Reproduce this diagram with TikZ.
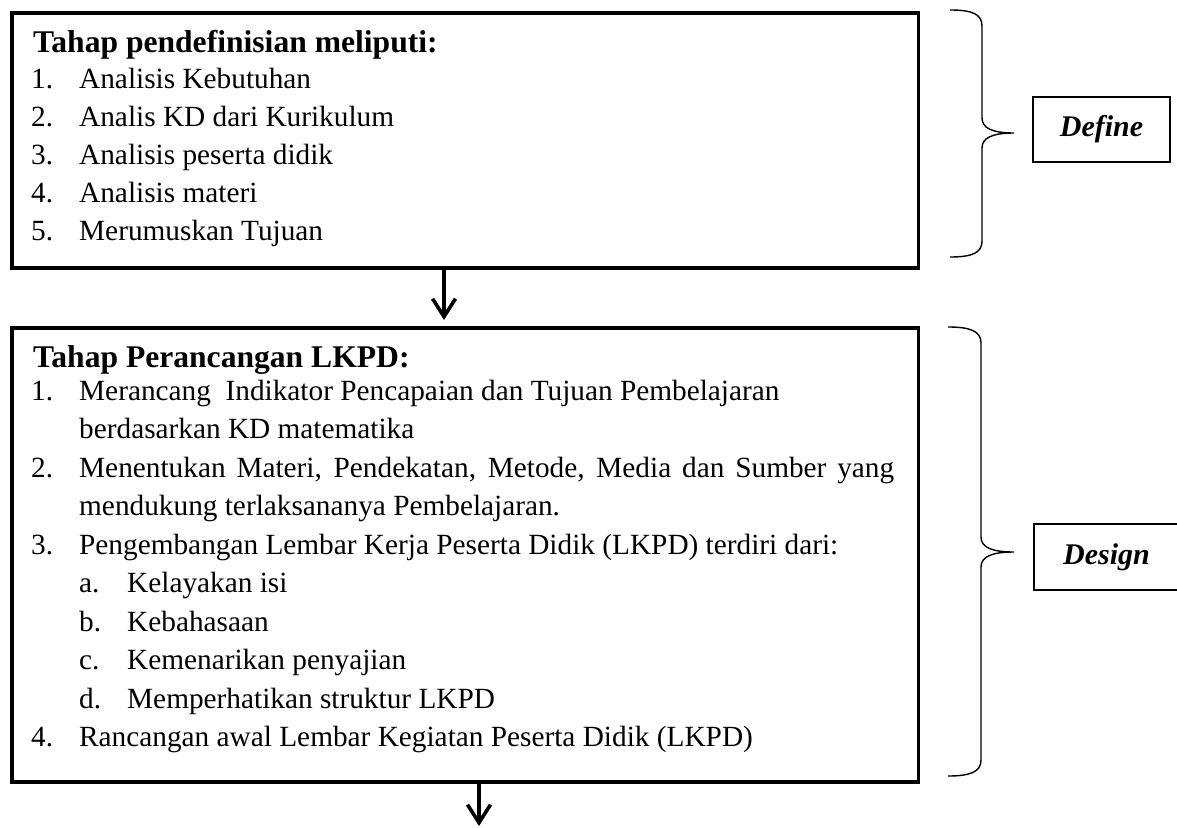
\documentclass[tikz,border=0pt]{standalone}
\usepackage{fontspec}
\setmainfont{Liberation Serif}
\usetikzlibrary{arrows.meta}
\tikzset{
  stagebox/.style={draw, line width=3.6pt, minimum width=906.5pt, anchor=north west, inner sep=0pt},
  phasebox/.style={draw, line width=2.2pt, minimum height=65pt, inner sep=0pt,
    font=\fontsize{30}{32}\selectfont\bfseries\itshape},
  flowarrow/.style={line width=3.6pt, -{Straight Barb[length=18pt,width=23pt,line width=3.6pt]}},
  bracepath/.style={line width=1.4pt},
  titletext/.style={anchor=base west, inner sep=0pt, font=\fontsize{31.6}{34}\selectfont\bfseries},
  listtext/.style={anchor=base west, inner sep=0pt},
}
\newcommand{\itemno}[1]{\makebox[48pt][l]{#1}}
\begin{document}
\begin{tikzpicture}[x=1pt, y=-1pt]
\useasboundingbox (0,0) rectangle (1177,827);

% boxes
\node[stagebox, minimum height=255pt] (b1) at (10,11) {};
\node[stagebox, minimum height=454pt] (b2) at (10,326) {};

% texts box 1
\node[titletext] (t1) at (33,52) {Tahap pendefinisian meliputi:};
\node[listtext] (l1) at (31,88) {\begin{minipage}[t]{870pt}\fontsize{29.3}{38}\selectfont
\itemno{1.}Analisis Kebutuhan\\
\itemno{2.}Analis KD dari Kurikulum\\
\itemno{3.}Analisis peserta didik\\
\itemno{4.}Analisis materi\\
\itemno{5.}Merumuskan Tujuan
\end{minipage}};

% texts box 2
\node[titletext] (t2) at (33,367) {Tahap Perancangan LKPD:};
\node[listtext] (l2) at (31,400) {\begin{minipage}[t]{880pt}\fontsize{29.3}{38.5}\selectfont
\itemno{1.}Merancang\ \ Indikator Pencapaian dan Tujuan Pembelajaran\\
\hspace*{48pt}berdasarkan KD matematika\\
\itemno{2.}\makebox[815pt][s]{Menentukan Materi, Pendekatan, Metode, Media dan Sumber yang}\\
\hspace*{48pt}mendukung terlaksananya Pembelajaran.\\
\itemno{3.}Pengembangan Lembar Kerja Peserta Didik (LKPD) terdiri dari:\\
\hspace*{48pt}\itemno{a.}Kelayakan isi\\
\hspace*{48pt}\itemno{b.}Kebahasaan\\
\hspace*{48pt}\itemno{c.}Kemenarikan penyajian\\
\hspace*{48pt}\itemno{d.}Memperhatikan struktur LKPD\\
\itemno{4.}Rancangan awal Lembar Kegiatan Peserta Didik (LKPD)
\end{minipage}};

% arrows
\coordinate (a1) at (444,0);
\coordinate (a2) at (479,0);
\coordinate (end2) at (479,826);
\draw[flowarrow, shorten >=6pt] (b1.south -| a1) -- (b2.north -| a1);
\draw[flowarrow] (b2.south -| a2) -- (end2);

% phase labels
\node[phasebox, minimum width=137pt] (define) at (1101.5,129.5) {Define};
\node[phasebox, anchor=west, text width=130pt, inner xsep=29pt, align=left, minimum height=66pt] (design) at (1033,557) {Design};

% braces
\draw[bracepath] (950,10) .. controls (972,10) and (982,14) .. (982,26) -- (982,118)
  .. controls (982,128) and (992,133) .. (1014,133)
  .. controls (992,133) and (982,138) .. (982,148) -- (982,241)
  .. controls (982,253) and (972,257) .. (950,257);
\draw[bracepath] (948,327) .. controls (970,327) and (981,331) .. (981,343) -- (981,537)
  .. controls (981,547) and (991,552) .. (1014,552)
  .. controls (991,552) and (981,557) .. (981,567) -- (981,760)
  .. controls (981,772) and (970,776) .. (948,776);
\end{tikzpicture}
\end{document}
